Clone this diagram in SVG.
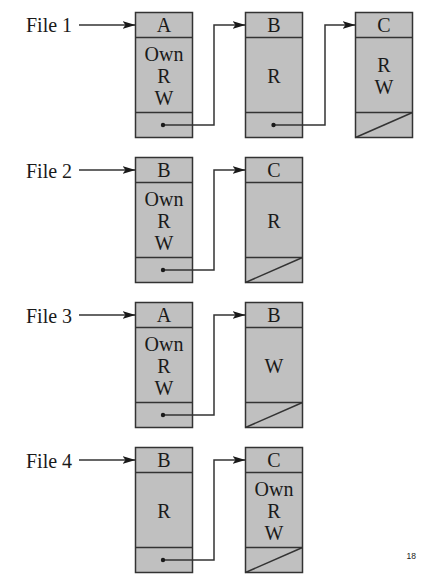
<svg xmlns="http://www.w3.org/2000/svg" width="442" height="583" viewBox="0 0 442 583">
<style>
.box{fill:#c0c0c0;stroke:#333;stroke-width:1.5}
.ln{stroke:#333;stroke-width:1.5;fill:none}
.t{font-family:"Liberation Serif","Times New Roman",serif;font-size:20px;fill:#1a1a1a;text-anchor:middle}
.lbl{font-family:"Liberation Serif","Times New Roman",serif;font-size:20px;fill:#1a1a1a}
.dot{fill:#1a1a1a}
</style>
<defs>
<marker id="ah" markerUnits="userSpaceOnUse" markerWidth="14" markerHeight="10" refX="13" refY="4" orient="auto">
<path d="M0,0 L13,4 L0,8 L3,4 z" fill="#1a1a1a"/>
</marker>
</defs>

<!-- Row 1 -->
<g id="file1"><text class="lbl" x="26" y="32">File 1</text></g>
<g id="r1A">
<rect class="box" x="135.5" y="12.5" width="57" height="125"/>
<line class="ln" x1="135.5" y1="37.5" x2="192.5" y2="37.5"/>
<line class="ln" x1="135.5" y1="112.5" x2="192.5" y2="112.5"/>
<text class="t" x="164" y="31.5">A</text>
<text class="t" x="164" y="61">Own</text>
<text class="t" x="164" y="83">R</text>
<text class="t" x="164" y="104.5">W</text>
</g>
<g id="r1B">
<rect class="box" x="245.5" y="12.5" width="57" height="125"/>
<line class="ln" x1="245.5" y1="37.5" x2="302.5" y2="37.5"/>
<line class="ln" x1="245.5" y1="112.5" x2="302.5" y2="112.5"/>
<text class="t" x="274" y="31.5">B</text>
<text class="t" x="274" y="83">R</text>
</g>
<g id="r1C">
<rect class="box" x="355.5" y="12.5" width="57" height="125"/>
<line class="ln" x1="355.5" y1="37.5" x2="412.5" y2="37.5"/>
<line class="ln" x1="355.5" y1="112.5" x2="412.5" y2="112.5"/>
<line class="ln" x1="355.5" y1="137.5" x2="412.5" y2="112.5"/>
<text class="t" x="384" y="31.5">C</text>
<text class="t" x="384" y="72">R</text>
<text class="t" x="384" y="93.5">W</text>
</g>

<!-- Row 2 -->
<g id="file2"><text class="lbl" x="26" y="177.5">File 2</text></g>
<g id="r2B">
<rect class="box" x="135.5" y="157.5" width="57" height="125"/>
<line class="ln" x1="135.5" y1="182.5" x2="192.5" y2="182.5"/>
<line class="ln" x1="135.5" y1="257.5" x2="192.5" y2="257.5"/>
<text class="t" x="164" y="176.5">B</text>
<text class="t" x="164" y="206">Own</text>
<text class="t" x="164" y="228">R</text>
<text class="t" x="164" y="249.5">W</text>
</g>
<g id="r2C">
<rect class="box" x="245.5" y="157.5" width="57" height="125"/>
<line class="ln" x1="245.5" y1="182.5" x2="302.5" y2="182.5"/>
<line class="ln" x1="245.5" y1="257.5" x2="302.5" y2="257.5"/>
<line class="ln" x1="245.5" y1="282.5" x2="302.5" y2="257.5"/>
<text class="t" x="274" y="176.5">C</text>
<text class="t" x="274" y="228">R</text>
</g>

<!-- Row 3 -->
<g id="file3"><text class="lbl" x="26" y="322.5">File 3</text></g>
<g id="r3A">
<rect class="box" x="135.5" y="302.5" width="57" height="125"/>
<line class="ln" x1="135.5" y1="327.5" x2="192.5" y2="327.5"/>
<line class="ln" x1="135.5" y1="402.5" x2="192.5" y2="402.5"/>
<text class="t" x="164" y="321.5">A</text>
<text class="t" x="164" y="351">Own</text>
<text class="t" x="164" y="373">R</text>
<text class="t" x="164" y="394.5">W</text>
</g>
<g id="r3B">
<rect class="box" x="245.5" y="302.5" width="57" height="125"/>
<line class="ln" x1="245.5" y1="327.5" x2="302.5" y2="327.5"/>
<line class="ln" x1="245.5" y1="402.5" x2="302.5" y2="402.5"/>
<line class="ln" x1="245.5" y1="427.5" x2="302.5" y2="402.5"/>
<text class="t" x="274" y="321.5">B</text>
<text class="t" x="274" y="373">W</text>
</g>

<!-- Row 4 -->
<g id="file4"><text class="lbl" x="26" y="467.5">File 4</text></g>
<g id="r4B">
<rect class="box" x="135.5" y="447.5" width="57" height="125"/>
<line class="ln" x1="135.5" y1="472.5" x2="192.5" y2="472.5"/>
<line class="ln" x1="135.5" y1="547.5" x2="192.5" y2="547.5"/>
<text class="t" x="164" y="466.5">B</text>
<text class="t" x="164" y="518">R</text>
</g>
<g id="r4C">
<rect class="box" x="245.5" y="447.5" width="57" height="125"/>
<line class="ln" x1="245.5" y1="472.5" x2="302.5" y2="472.5"/>
<line class="ln" x1="245.5" y1="547.5" x2="302.5" y2="547.5"/>
<line class="ln" x1="245.5" y1="572.5" x2="302.5" y2="547.5"/>
<text class="t" x="274" y="466.5">C</text>
<text class="t" x="274" y="496">Own</text>
<text class="t" x="274" y="518">R</text>
<text class="t" x="274" y="539.5">W</text>
</g>

<g id="connectors">
<line class="ln" x1="79" y1="25" x2="135.5" y2="25" marker-end="url(#ah)"/>
<polyline class="ln" points="163,125 214,125 214,25 245.5,25" marker-end="url(#ah)"/>
<polyline class="ln" points="273.5,125 325,125 325,25 355.5,25" marker-end="url(#ah)"/>
<circle class="dot" cx="163" cy="125" r="2.2"/>
<circle class="dot" cx="273.5" cy="125" r="2.2"/>

<line class="ln" x1="79" y1="170" x2="135.5" y2="170" marker-end="url(#ah)"/>
<polyline class="ln" points="163,270 214,270 214,170 245.5,170" marker-end="url(#ah)"/>
<circle class="dot" cx="163" cy="270" r="2.2"/>

<line class="ln" x1="79" y1="315" x2="135.5" y2="315" marker-end="url(#ah)"/>
<polyline class="ln" points="163,415 214,415 214,315 245.5,315" marker-end="url(#ah)"/>
<circle class="dot" cx="163" cy="415" r="2.2"/>

<line class="ln" x1="79" y1="460" x2="135.5" y2="460" marker-end="url(#ah)"/>
<polyline class="ln" points="163,560 214,560 214,460 245.5,460" marker-end="url(#ah)"/>
<circle class="dot" cx="163" cy="560" r="2.2"/>
</g>

<text x="406.5" y="558.5" style="font-family:'Liberation Sans',Arial,sans-serif;font-size:8.5px;fill:#222">18</text>
</svg>
